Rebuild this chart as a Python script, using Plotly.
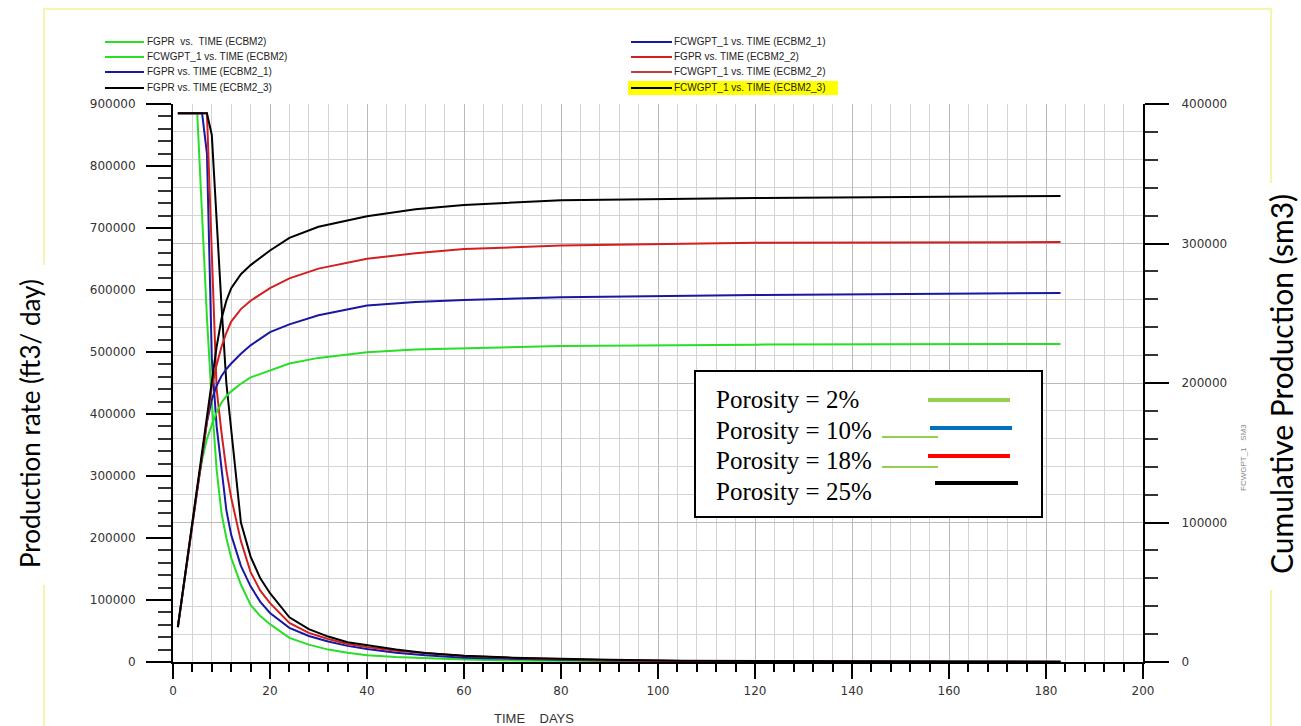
import plotly.graph_objects as go

# ---------------- data ----------------
days_rate = [1, 2, 3, 4, 5, 6, 7, 8, 9, 10, 11, 12, 14, 16, 18, 20, 24, 28, 32, 36, 40,
             46, 52, 60, 70, 80, 90, 105, 120, 140, 160, 183]

fgpr_ecbm2 = [885000, 885000, 885000, 885000, 885000, 720000, 555000, 420000, 310000, 240000,
              200000, 168000, 125000, 92000, 74000, 61000, 39000, 28000, 20000, 15000, 11000,
              8000, 6000, 4000, 2500, 1800, 1200, 800, 500, 300, 200, 150]
fgpr_ecbm2_1 = [885000, 885000, 885000, 885000, 885000, 885000, 820000, 490000, 380000, 310000,
                245000, 205000, 155000, 122000, 97000, 79000, 55000, 42000, 33000, 26000, 21000,
                15000, 11000, 7000, 5000, 3500, 2500, 1500, 1000, 700, 500, 400]
fgpr_ecbm2_2 = [885000, 885000, 885000, 885000, 885000, 885000, 885000, 660000, 440000, 370000,
                310000, 265000, 195000, 145000, 115000, 95000, 63000, 47000, 37000, 29000, 24000,
                18000, 14000, 9500, 6500, 4500, 3000, 1800, 1200, 800, 600, 500]
fgpr_ecbm2_3 = [885000, 885000, 885000, 885000, 885000, 885000, 885000, 850000, 705000, 575000,
                450000, 375000, 225000, 170000, 135000, 111000, 72000, 53000, 41000, 32000, 27000,
                20000, 14500, 10000, 7000, 5000, 3500, 2200, 1500, 1000, 700, 600]

days_cum = [1, 5, 6, 7, 8, 9, 10, 11, 12, 14, 16, 20, 24, 30, 40, 50, 60, 80, 120, 183]

fcwgpt_ecbm2 = [25000, 125000, 145000, 160000, 170000, 179000, 186000, 190500, 194000, 199500,
                204000, 209000, 214000, 218000, 222000, 224000, 225000, 226500, 227500, 228000]
fcwgpt_ecbm2_1 = [25000, 125000, 150000, 172000, 188000, 198000, 205000, 210000, 214000, 221000,
                  227000, 236500, 242000, 248500, 255500, 258000, 259500, 261500, 263000, 264500]
fcwgpt_ecbm2_2 = [25000, 125000, 150000, 175000, 197000, 213000, 226000, 236000, 244000, 253000,
                  259000, 268000, 275000, 282000, 289000, 293000, 296000, 298500, 300500, 301000]
fcwgpt_ecbm2_3 = [25000, 125000, 150000, 175000, 199000, 226000, 246000, 259000, 268000, 278000,
                  284500, 295000, 304000, 312000, 319500, 324500, 327600, 331000, 332600, 334000]

legend_left = ["FGPR  vs.  TIME (ECBM2)", "FCWGPT_1 vs. TIME (ECBM2)",
               "FGPR vs. TIME (ECBM2_1)", "FGPR vs. TIME (ECBM2_3)"]
legend_right = ["FCWGPT_1 vs. TIME (ECBM2_1)", "FGPR vs. TIME (ECBM2_2)",
                "FCWGPT_1 vs. TIME (ECBM2_2)", "FCWGPT_1 vs. TIME (ECBM2_3)"]
porosity_labels = ["Porosity = 2%", "Porosity = 10%", "Porosity = 18%", "Porosity = 25%"]

# ---------------- styling ----------------
GREEN = "rgb(40,222,40)"
NAVY = "rgb(24,24,160)"
RED = "rgb(208,32,32)"
BLACK = "rgb(0,0,0)"

W, H = 1301, 726
L, R, T, B = 173, 1143, 104, 662  # plot area in pixels


def px(x):
    return (x - L) / (R - L)


def py(y):
    return (B - y) / (B - T)


fig = go.Figure()

rate_series = [(fgpr_ecbm2, GREEN), (fgpr_ecbm2_1, NAVY), (fgpr_ecbm2_2, RED), (fgpr_ecbm2_3, BLACK)]
cum_series = [(fcwgpt_ecbm2, GREEN), (fcwgpt_ecbm2_1, NAVY), (fcwgpt_ecbm2_2, RED), (fcwgpt_ecbm2_3, BLACK)]

for vals, col in rate_series:
    fig.add_trace(go.Scatter(x=days_rate, y=vals, mode="lines", yaxis="y",
                             line=dict(color=col, width=2), showlegend=False))
for vals, col in cum_series:
    fig.add_trace(go.Scatter(x=days_cum, y=vals, mode="lines", yaxis="y2",
                             line=dict(color=col, width=2), showlegend=False))

tick_font = dict(family="DejaVu Sans", size=12, color="#333333")

fig.update_layout(
    width=W, height=H,
    margin=dict(l=L, r=W - R, t=T, b=H - B),
    paper_bgcolor="white", plot_bgcolor="white",
    showlegend=False,
    xaxis=dict(range=[0, 200], tickmode="linear", tick0=0, dtick=20,
               ticks="outside", ticklen=15, tickwidth=2, tickcolor="black",
               showline=True, linecolor="black", linewidth=2,
               showgrid=True, gridcolor="#b9b9b9", gridwidth=1,
               zeroline=False, tickfont=tick_font, ticklabelstandoff=2,
               minor=dict(dtick=4, ticks="outside", ticklen=8, tickwidth=1.5,
                          tickcolor="black", showgrid=True, gridcolor="#d4d4d4", gridwidth=1)),
    yaxis=dict(range=[0, 900000], tickmode="linear", tick0=0, dtick=100000,
               tickformat="d", ticks="outside", ticklen=25, tickwidth=2, tickcolor="black",
               showline=True, linecolor="black", linewidth=2,
               showgrid=False, zeroline=False, tickfont=tick_font, ticklabelstandoff=8,
               minor=dict(dtick=20000, ticks="outside", ticklen=13, tickwidth=1.5,
                          tickcolor="#333333", showgrid=False)),
    yaxis2=dict(range=[0, 400000], overlaying="y", side="right", tickmode="linear",
                tick0=0, dtick=100000, tickformat="d",
                ticks="outside", ticklen=24, tickwidth=2, tickcolor="black",
                showline=True, linecolor="black", linewidth=2,
                showgrid=True, gridcolor="#b9b9b9", gridwidth=1,
                zeroline=False, tickfont=tick_font, ticklabelstandoff=10,
                minor=dict(dtick=20000, ticks="outside", ticklen=13, tickwidth=1.5,
                           tickcolor="#333333", showgrid=True, gridcolor="#d4d4d4", gridwidth=1)),
)

shapes = []
annotations = []

# pale yellow frame around the page
shapes.append(dict(type="rect", xref="paper", yref="paper",
                   x0=px(44), x1=px(1271), y0=py(9), y1=py(740),
                   line=dict(color="rgb(246,246,170)", width=2), layer="below"))

# series key across the top
rows_y = [42, 57, 72, 88]
shapes.append(dict(type="rect", xref="paper", yref="paper",
                   x0=px(628), x1=px(838), y0=py(95), y1=py(81),
                   fillcolor="#ffff00", line=dict(width=0), layer="below"))
left_cols = [GREEN, GREEN, NAVY, BLACK]
right_cols = [NAVY, RED, "rgb(196,60,60)", BLACK]
key_font = dict(family="Liberation Sans", size=10, color="#222")
for i, y in enumerate(rows_y):
    shapes.append(dict(type="line", xref="paper", yref="paper",
                       x0=px(105), x1=px(144), y0=py(y), y1=py(y),
                       line=dict(color=left_cols[i], width=2)))
    annotations.append(dict(text=legend_left[i], xref="paper", yref="paper",
                            x=px(145), y=py(y), xanchor="left", yanchor="middle",
                            showarrow=False, font=key_font))
    shapes.append(dict(type="line", xref="paper", yref="paper",
                       x0=px(631), x1=px(672), y0=py(y), y1=py(y),
                       line=dict(color=right_cols[i], width=2)))
    annotations.append(dict(text=legend_right[i], xref="paper", yref="paper",
                            x=px(672), y=py(y), xanchor="left", yanchor="middle",
                            showarrow=False, font=key_font))

# porosity key box
shapes.append(dict(type="rect", xref="paper", yref="paper",
                   x0=px(695), x1=px(1042), y0=py(517), y1=py(371),
                   fillcolor="white", line=dict(color="black", width=2)))
por_y = [399, 430, 460, 491]
por_lines = [(928, 1010, 400, "rgb(146,208,80)"), (930, 1012, 428, "rgb(0,112,192)"),
             (928, 1010, 456, "rgb(255,0,0)"), (935, 1018, 483, "black")]
for i, y in enumerate(por_y):
    annotations.append(dict(text=porosity_labels[i], xref="paper", yref="paper",
                            x=px(714), y=py(y), xanchor="left", yanchor="middle",
                            showarrow=False,
                            font=dict(family="Liberation Serif", size=25, color="black")))
for x0, x1, y, col in por_lines:
    shapes.append(dict(type="line", xref="paper", yref="paper",
                       x0=px(x0), x1=px(x1), y0=py(y), y1=py(y),
                       line=dict(color=col, width=4)))
for y in (437, 467):
    shapes.append(dict(type="line", xref="paper", yref="paper",
                       x0=px(882), x1=px(938), y0=py(y), y1=py(y),
                       line=dict(color="rgb(146,208,80)", width=2)))

# axis titles
shapes.append(dict(type="rect", xref="paper", yref="paper",
                   x0=px(1262), x1=px(1300), y0=py(590), y1=py(183),
                   fillcolor="white", line=dict(width=0)))
shapes.append(dict(type="rect", xref="paper", yref="paper",
                   x0=px(14), x1=px(48), y0=py(585), y1=py(265),
                   fillcolor="white", line=dict(width=0)))
annotations.append(dict(text="Production rate (ft3/ day)", xref="paper", yref="paper",
                        x=px(30), y=py(424), textangle=-90, showarrow=False,
                        xanchor="center", yanchor="middle",
                        font=dict(family="Lato", size=26, color="black")))
annotations.append(dict(text="Cumulative Production (sm3)", xref="paper", yref="paper",
                        x=px(1281), y=py(384), textangle=-90, showarrow=False,
                        xanchor="center", yanchor="middle",
                        font=dict(family="Lato", size=30, color="black")))
annotations.append(dict(text="TIME    DAYS", xref="paper", yref="paper",
                        x=px(534), y=py(718), showarrow=False,
                        xanchor="center", yanchor="middle",
                        font=dict(family="Liberation Sans", size=13, color="#333")))
annotations.append(dict(text="FCWGPT_1   SM3", xref="paper", yref="paper",
                        x=px(1243), y=py(458), textangle=-90, showarrow=False,
                        xanchor="center", yanchor="middle",
                        font=dict(family="Liberation Sans", size=8, color="#888")))

fig.update_layout(shapes=shapes, annotations=annotations)

fig.write_html("out.html")
